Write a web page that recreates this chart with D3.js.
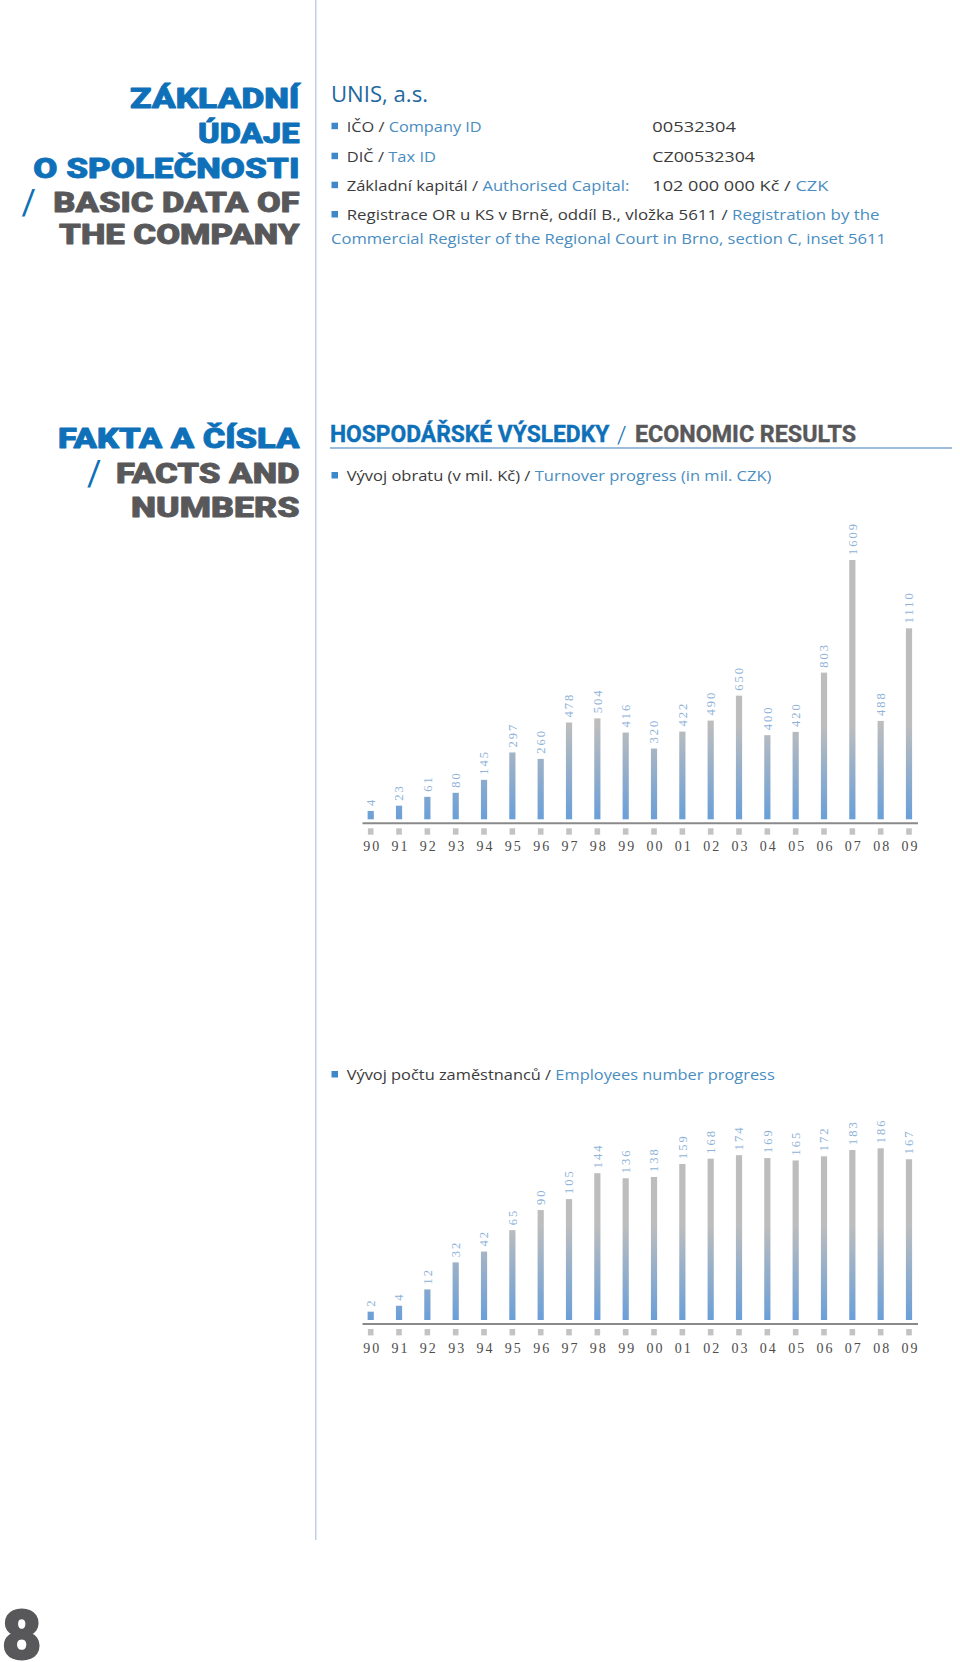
<!DOCTYPE html>
<html>
<head>
<meta charset="utf-8">
<script src="https://cdn.jsdelivr.net/npm/d3@7"></script>
<style>
  html, body { margin: 0; padding: 0; background: #ffffff; }
  svg { display: block; }
</style>
</head>
<body>
<svg id="page" width="960" height="1662"></svg>
<script>
// ---------------- DATA ----------------
const years = ["90","91","92","93","94","95","96","97","98","99","00","01","02","03","04","05","06","07","08","09"];
const turnover = [4, 23, 61, 80, 145, 297, 260, 478, 504, 416, 320, 422, 490, 650, 400, 420, 803, 1609, 488, 1110];
const employees = [2, 4, 12, 32, 42, 65, 90, 105, 144, 136, 138, 159, 168, 174, 169, 165, 172, 183, 186, 167];

const headingTop = [
  { text: "ZÁKLADNÍ", tone: "blue" },
  { text: "ÚDAJE", tone: "blue" },
  { text: "O SPOLEČNOSTI", tone: "blue" },
  { text: "BASIC DATA OF", tone: "grey", slash: true },
  { text: "THE COMPANY", tone: "grey" }
];
const headingFacts = [
  { text: "FAKTA A ČÍSLA", tone: "blue" },
  { text: "FACTS AND", tone: "grey", slash: true },
  { text: "NUMBERS", tone: "grey" }
];
const infoRows = [
  { bullet: true, parts: [["IČO / ", "dark"], ["Company ID", "blue"]], value: [["00532304", "dark"]] },
  { bullet: true, parts: [["DIČ / ", "dark"], ["Tax ID", "blue"]], value: [["CZ00532304", "dark"]] },
  { bullet: true, parts: [["Základní kapitál / ", "dark"], ["Authorised Capital:", "blue"]], value: [["102 000 000 Kč / ", "dark"], ["CZK", "blue"]] },
  { bullet: true, parts: [["Registrace OR u KS v Brně, oddíl B., vložka 5611 / ", "dark"], ["Registration by the", "blue"]] },
  { bullet: false, parts: [["Commercial Register of the Regional Court in Brno, section C, inset 5611", "blue"]] }
];

// ---------------- STYLE ----------------
const C = {
  headBlue: "#0e70b8", headGrey: "#58585a",
  dark: "#3b3b3b", blue: "#4a8dc1", unis: "#1f68a0", bullet: "#3e87c8",
  divider: "#aec3d9", underline: "#7ba6cf",
  barGrey: "#bdbdbd", barBlue: "#6a9fd8", label: "#8eb2d8",
  year: "#4d4d4d", marker: "#c3c3c3", axis: "#8a8a8a"
};
const colorOf = k => ({ blue: C.blue, dark: C.dark, grey: C.headGrey }[k]);
const heavyFont = "Roboto, 'Liberation Sans', sans-serif";
const bodyFont = "'Open Sans', Roboto, 'Liberation Sans', sans-serif";
const serif = "'Liberation Serif', 'DejaVu Serif', serif";

const svg = d3.select("#page");
const defs = svg.append("defs");

// divider
svg.append("line").attr("x1", 315.8).attr("x2", 315.8).attr("y1", 0).attr("y2", 1540)
  .attr("stroke", C.divider).attr("stroke-width", 1.2);

// --------- big headings (right aligned at x=300) ----------
function bigHeading(lines, baselines, lefts, slashX) {
  lines.forEach((ln, i) => {
    const col = ln.tone === "blue" ? C.headBlue : C.headGrey;
    svg.append("text")
      .attr("x", lefts[i]).attr("y", baselines[i])
      .attr("font-family", heavyFont)
      .attr("font-weight", 900).attr("font-size", 27.5)
      .attr("fill", col).attr("stroke", col).attr("stroke-width", 0.8)
      .attr("stroke-linejoin", "round")
      .attr("textLength", 299.5 - lefts[i]).attr("lengthAdjust", "spacingAndGlyphs")
      .text(ln.text);
    if (ln.slash) {
      svg.append("text")
        .attr("x", slashX[i]).attr("y", baselines[i] + 2)
        .attr("font-family", heavyFont)
        .attr("font-weight", 400).attr("font-size", 35)
        .attr("fill", C.headBlue)
        .text("/");
    }
  });
}
bigHeading(headingTop, [108.3, 143.3, 178.3, 211.7, 244.3], [130, 198, 33.3, 53.3, 59], [0, 0, 0, 21.5, 0]);
bigHeading(headingFacts, [448.3, 483.3, 517.3], [58, 116, 131], [0, 87, 0]);

// --------- info block ----------
function richText(x, y, parts, size, width) {
  const t = svg.append("text").attr("x", x).attr("y", y)
    .attr("font-family", bodyFont).attr("font-size", size);
  if (width) t.attr("textLength", width).attr("lengthAdjust", "spacingAndGlyphs");
  parts.forEach(p => t.append("tspan").attr("fill", colorOf(p[1])).text(p[0]));
  return t;
}
function bullet(y) {
  svg.append("rect").attr("x", 331.5).attr("y", y - 9).attr("width", 6.5).attr("height", 6.5)
    .attr("fill", C.bullet);
}

svg.append("text").attr("x", 331).attr("y", 101.7)
  .attr("font-family", bodyFont).attr("font-size", 21.5).attr("font-weight", 400)
  .attr("fill", C.unis).attr("textLength", 97).attr("lengthAdjust", "spacingAndGlyphs")
  .text("UNIS, a.s.");

const rowBase = [131.7, 161.7, 190.7, 220, 244];
const rowWidth = [135, 89.3, 282.6, 532.8, 555];
const valueWidth = [83.7, 102.7, 176];
infoRows.forEach((r, i) => {
  const y = rowBase[i];
  if (r.bullet) { bullet(y); richText(346.7, y, r.parts, 15, rowWidth[i]); }
  else richText(331, y, r.parts, 15, rowWidth[i]);
  if (r.value) richText(652.3, y, r.value, 15, valueWidth[i]);
});

// --------- Economic results heading ----------
svg.append("text").attr("x", 330).attr("y", 441.7)
  .attr("font-family", heavyFont).attr("font-weight", 700).attr("font-size", 23.5)
  .attr("fill", C.headBlue).attr("stroke", C.headBlue).attr("stroke-width", 0.4)
  .attr("textLength", 279.3).attr("lengthAdjust", "spacingAndGlyphs")
  .text("HOSPODÁŘSKÉ VÝSLEDKY");
svg.append("text").attr("x", 617).attr("y", 442.5)
  .attr("font-family", heavyFont).attr("font-weight", 300).attr("font-size", 24)
  .attr("fill", C.headBlue).text("/");
svg.append("text").attr("x", 635).attr("y", 441.7)
  .attr("font-family", heavyFont).attr("font-weight", 700).attr("font-size", 23.5)
  .attr("fill", C.headGrey).attr("stroke", C.headGrey).attr("stroke-width", 0.4)
  .attr("textLength", 221).attr("lengthAdjust", "spacingAndGlyphs")
  .text("ECONOMIC RESULTS");
svg.append("line").attr("x1", 330).attr("x2", 952).attr("y1", 448).attr("y2", 448)
  .attr("stroke", C.underline).attr("stroke-width", 1.6);

bullet(481);
richText(346.7, 481, [["Vývoj obratu (v mil. Kč) / ", "dark"], ["Turnover progress (in mil. CZK)", "blue"]], 15, 424.7);
bullet(1080);
richText(346.7, 1080, [["Vývoj počtu zaměstnanců / ", "dark"], ["Employees number progress", "blue"]], 15, 428);

// --------- charts ----------
const x = d3.scalePoint().domain(years).range([370.7, 909]);

function drawChart(id, values, cfg) {
  const g = svg.append("g").attr("class", id);
  const y = d3.scalePow().exponent(cfg.exponent).domain([0, d3.max(values)]).range(cfg.range);

  const grad = defs.append("linearGradient").attr("id", "grad-" + id)
    .attr("gradientUnits", "userSpaceOnUse")
    .attr("x1", 0).attr("x2", 0).attr("y1", cfg.barBottom).attr("y2", cfg.barBottom - 95);
  grad.append("stop").attr("offset", 0).attr("stop-color", C.barBlue);
  grad.append("stop").attr("offset", 1).attr("stop-color", C.barGrey);

  const bw = 6.2;
  g.selectAll("rect.bar").data(values).join("rect").attr("class", "bar")
    .attr("x", (d, i) => x(years[i]) - bw / 2)
    .attr("width", bw)
    .attr("y", d => y(d))
    .attr("height", d => cfg.barBottom - y(d))
    .attr("fill", "url(#grad-" + id + ")");

  g.selectAll("text.val").data(values).join("text").attr("class", "val")
    .attr("transform", (d, i) => `translate(${x(years[i]) + 4.3},${y(d) - 5}) rotate(-90)`)
    .attr("font-family", serif).attr("font-size", 12.5)
    .attr("letter-spacing", 2)
    .attr("fill", C.label)
    .text(d => d);

  g.append("line").attr("x1", 362.5).attr("x2", 918)
    .attr("y1", cfg.axisY).attr("y2", cfg.axisY)
    .attr("stroke", C.axis).attr("stroke-width", 2);

  g.selectAll("rect.mk").data(years).join("rect").attr("class", "mk")
    .attr("x", d => x(d) - 2.8).attr("width", 5.6)
    .attr("y", cfg.axisY + 5).attr("height", 6.4)
    .attr("fill", C.marker);

  const axis = g.append("g").attr("transform", `translate(0,${cfg.axisY})`)
    .call(d3.axisBottom(x).tickSize(0).tickPadding(0));
  axis.select(".domain").remove();
  axis.selectAll("text")
    .attr("y", cfg.yearOffset).attr("dy", 0)
    .attr("font-family", serif).attr("font-size", 14)
    .attr("letter-spacing", 2)
    .attr("dx", 1)
    .attr("fill", C.year);
}

drawChart("turnover", turnover, { exponent: 0.85, range: [812.5, 560], barBottom: 819.3, axisY: 823.3, yearOffset: 27.5 });
drawChart("employees", employees, { exponent: 0.6, range: [1323.2, 1148.3], barBottom: 1320, axisY: 1324, yearOffset: 29 });

// page number
svg.append("text").attr("x", 2).attr("y", 1658.7)
  .attr("font-family", heavyFont)
  .attr("font-weight", 900).attr("font-size", 68)
  .attr("fill", C.headGrey).attr("stroke", C.headGrey).attr("stroke-width", 2)
  .attr("stroke-linejoin", "round")
  .text("8");
</script>
</body>
</html>
